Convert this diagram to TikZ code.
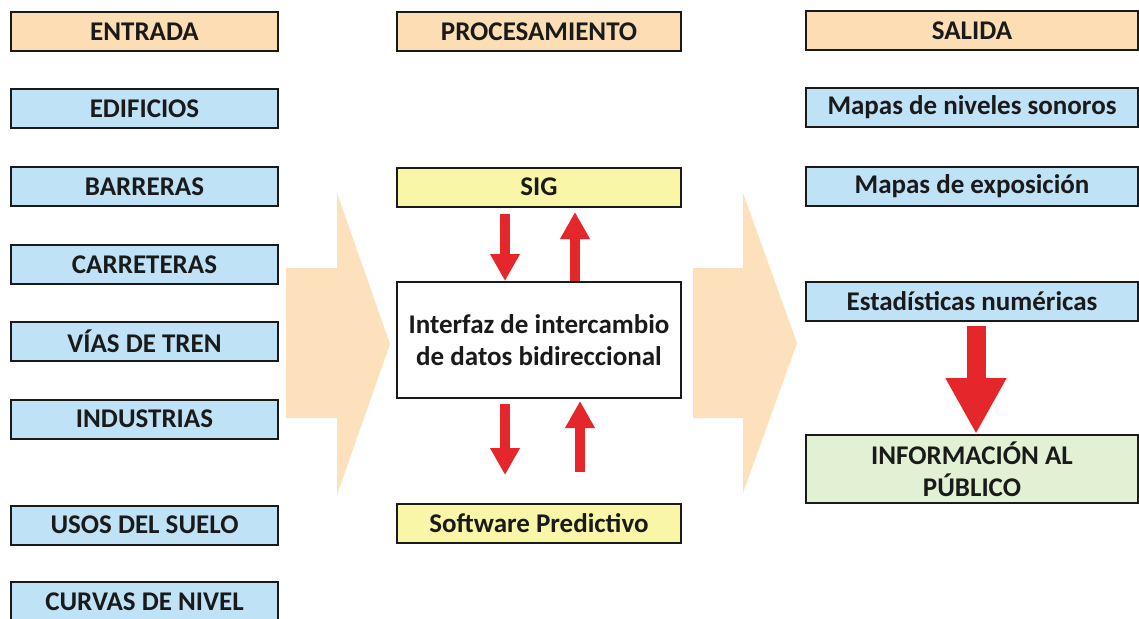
\documentclass[tikz,border=0pt]{standalone}
\usepackage{fontspec}
\setmainfont{Carlito}
\usetikzlibrary{arrows.meta}
\definecolor{hdr}{HTML}{FCDDB4}
\definecolor{bluebox}{HTML}{BFE2F7}
\definecolor{yelbox}{HTML}{FAF6A8}
\definecolor{grnbox}{HTML}{E2F0D4}
\definecolor{peach}{HTML}{FDE1BD}
\definecolor{redarr}{HTML}{E5262A}
\definecolor{ink}{HTML}{1A1A1A}
\tikzset{
  box/.style={draw=ink, line width=2pt, inner sep=0pt, text=ink,
    font=\fontsize{27}{32}\selectfont\bfseries, align=center},
  leftbox/.style={box, minimum width=267pt, minimum height=39pt},
  midbox/.style={box, minimum width=284pt, minimum height=39pt},
  rightbox/.style={box, minimum width=332pt, minimum height=39pt},
  thinarrow/.style={draw=redarr, line width=10pt, -{Triangle[width=28pt,length=27pt]}},
  bigarrow/.style={draw=redarr, line width=19pt, -{Triangle[width=57pt,length=56pt]}},
  blockarrow/.style={fill=peach, draw=none}
}
\begin{document}
\begin{tikzpicture}[x=1pt,y=-1pt]
\useasboundingbox (0,0) rectangle (1139,618);
\clip (0,0) rectangle (1139,618);
\fill[white] (0,0) rectangle (1139,618);
% block arrows
\fill[blockarrow] (286,268) -- (337,268) -- (337,193) -- (390,344) -- (337,495) -- (337,418) -- (286,418) -- cycle;
\fill[blockarrow] (693,268) -- (743,268) -- (743,193) -- (797,343) -- (743,493) -- (743,418) -- (693,418) -- cycle;
% left column
\node[leftbox, fill=hdr] (entrada) at (144.5,31.5) {ENTRADA};
\node[leftbox, fill=bluebox] (edif) at (144.5,108.5) {EDIFICIOS};
\node[leftbox, fill=bluebox] (barr) at (144.5,186.5) {BARRERAS};
\node[leftbox, fill=bluebox] (carr) at (144.5,264.5) {CARRETERAS};
\node[leftbox, fill=bluebox] (vias) at (144.5,341.5) {VÍAS DE TREN};
\node[leftbox, fill=bluebox] (ind) at (144.5,419) {INDUSTRIAS};
\node[leftbox, fill=bluebox] (usos) at (144.5,525) {USOS DEL SUELO};
\node[leftbox, fill=bluebox] (curv) at (144.5,601.5) {CURVAS DE NIVEL};
% middle column
\node[midbox, fill=hdr] (proc) at (539,31.5) {PROCESAMIENTO};
\node[midbox, fill=yelbox] (sig) at (539,187) {SIG};
\node[midbox, fill=white, minimum height=116pt] (intf) at (539,340) {Interfaz de intercambio\\de datos bidireccional};
\node[midbox, fill=yelbox] (soft) at (539,523.5) {Software Predictivo};
% right column
\node[rightbox, fill=hdr] (salida) at (972,31) {SALIDA};
\node[rightbox, fill=bluebox] (mapniv) at (972,107.5) {Mapas de niveles sonoros};
\node[rightbox, fill=bluebox] (mapexp) at (972,186) {Mapas de exposición};
\node[rightbox, fill=bluebox] (estad) at (972,301.5) {Estadísticas numéricas};
\node[rightbox, fill=grnbox, minimum height=68pt] (info) at (972,469) {INFORMACIÓN AL\\PÚBLICO};
% red arrows
\draw[thinarrow] (sig.south -| 505,0) ++(0,6) -- (intf.north -| 505,0);
\draw[thinarrow] (intf.north -| 575,0) -- ++(0,-69);
\draw[thinarrow] (intf.south -| 505,0) ++(0,5) -- ++(0,71);
\draw[thinarrow] (soft.north -| 580,0) ++(0,-31) -- ++(0,-71);
\draw[bigarrow] (estad.south) ++(4,4) -- ([xshift=4pt]info.north);
\end{tikzpicture}
\end{document}
